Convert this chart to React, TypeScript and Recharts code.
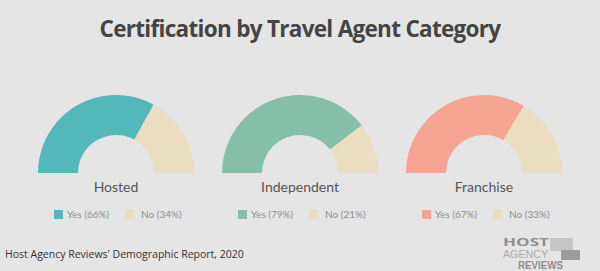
import React from 'react';
import { PieChart, Pie, Cell } from 'recharts';

const categories = ['Hosted', 'Independent', 'Franchise'];
const yesValues = [66, 79, 67];
const noValues = [34, 21, 33];
const seriesNames = ['Yes', 'No'];

const YES_COLORS = ['#53b8b9', '#85bea9', '#f5a492'];
const NO_COLOR = '#ebddc1';
const BG = '#e5e5e5';

const W = 600;
const H = 271;
const CENTERS = [116, 300, 484];
const CY = 173;

export default function App() {
  return (
    <div
      style={{
        position: 'absolute',
        left: 0,
        top: 0,
        width: W,
        height: H,
        background: BG,
        overflow: 'hidden',
        fontFamily: 'Lato, sans-serif',
      }}
    >
      <div
        style={{
          position: 'absolute',
          left: 0,
          top: 13,
          width: W,
          textAlign: 'center',
          fontFamily: '"Open Sans", sans-serif',
          fontWeight: 700,
          fontSize: 22.5,
          letterSpacing: -0.7,
          color: '#444',
        }}
      >
        Certification by Travel Agent Category
      </div>

      <PieChart
        width={W}
        height={H}
        margin={{ top: 0, right: 0, bottom: 0, left: 0 }}
        style={{ position: 'absolute', left: 0, top: 0 }}
      >
        {categories.map((cat, i) => {
          const data = [
            { name: seriesNames[0], value: yesValues[i] },
            { name: seriesNames[1], value: noValues[i] },
          ];
          return (
            <Pie
              key={cat}
              data={data}
              dataKey="value"
              nameKey="name"
              cx={CENTERS[i]}
              cy={CY}
              startAngle={180}
              endAngle={0}
              innerRadius={38}
              outerRadius={78}
              stroke="none"
              isAnimationActive={false}
            >
              <Cell fill={YES_COLORS[i]} />
              <Cell fill={NO_COLOR} />
            </Pie>
          );
        })}
      </PieChart>

      {categories.map((cat, i) => (
        <React.Fragment key={cat}>
          <div
            style={{
              position: 'absolute',
              left: CENTERS[i] - 80,
              width: 160,
              top: 178,
              textAlign: 'center',
              fontSize: 14,
              color: '#555',
            }}
          >
            {cat}
          </div>
          <div
            style={{
              position: 'absolute',
              left: CENTERS[i] - 62,
              top: 208,
              display: 'flex',
              alignItems: 'center',
              fontSize: 10,
              color: '#8c8c8c',
            }}
          >
            <span style={{ width: 9, height: 9, background: YES_COLORS[i], marginRight: 4 }} />
            <span style={{ width: 58 }}>
              {seriesNames[0]} ({yesValues[i]}%)
            </span>
            <span style={{ width: 9, height: 9, background: NO_COLOR, marginRight: 7 }} />
            <span>
              {seriesNames[1]} ({noValues[i]}%)
            </span>
          </div>
        </React.Fragment>
      ))}

      <div
        style={{
          position: 'absolute',
          left: 5,
          top: 247,
          fontFamily: '"Liberation Sans Narrow", "Open Sans", sans-serif',
          fontSize: 10.5,
          color: '#333',
        }}
      >
        Host Agency Reviews' Demographic Report, 2020
      </div>

      {/* logo */}
      <svg width={W} height={H} style={{ position: 'absolute', left: 0, top: 0 }}>
        <rect x={550} y={238} width={23} height={13} fill="#c6c6c6" />
        <rect x={561} y={250} width={19} height={10} fill="#9c9c9c" />
        <text
          x={503}
          y={246}
          textLength={46}
          lengthAdjust="spacingAndGlyphs"
          fontFamily='"Open Sans", sans-serif'
          fontWeight={700}
          fontSize={10.5}
          fill="#8e8e8e"
        >
          HOST
        </text>
        <text
          x={503}
          y={258}
          textLength={45}
          lengthAdjust="spacingAndGlyphs"
          fontFamily='"Liberation Sans Narrow", sans-serif'
          fontSize={10.5}
          fill="#ababab"
        >
          AGENCY
        </text>
        <text
          x={518}
          y={269}
          textLength={45}
          lengthAdjust="spacingAndGlyphs"
          fontFamily='"Liberation Sans Narrow", sans-serif'
          fontWeight={700}
          fontSize={10}
          fill="#8e8e8e"
        >
          REVIEWS
        </text>
      </svg>
    </div>
  );
}
